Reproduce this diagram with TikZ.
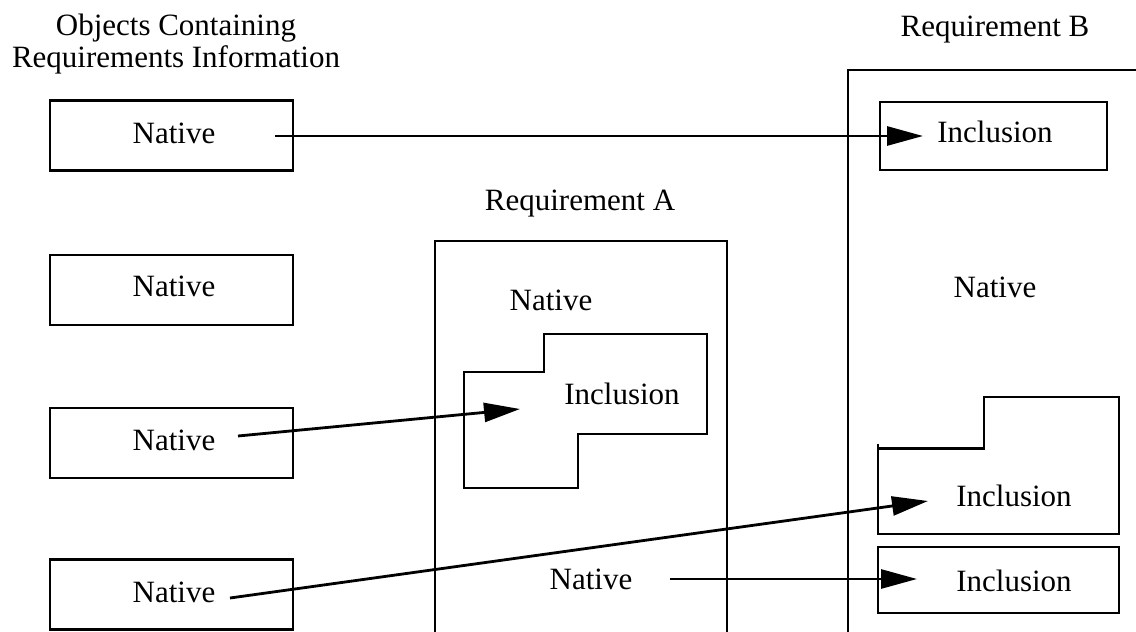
\documentclass[tikz,border=0pt]{standalone}
\usepackage{fontspec}
\setmainfont{Liberation Serif}
\usetikzlibrary{arrows.meta}
\tikzset{
  lw/.style={line width=2.8pt},
  txt/.style={anchor=base, inner sep=0pt, font=\fontsize{31}{32}\selectfont},
  objbox/.style={draw, lw, rectangle, inner sep=0pt, minimum width=243pt, minimum height=70pt},
  incbox/.style={draw, lw, rectangle, inner sep=0pt},
  link/.style={lw, -{Triangle[length=36pt,width=19pt]}},
}
\begin{document}
\begin{tikzpicture}[x=1pt, y=-1pt]
  \clip (0,0) rectangle (1136,632);
  \fill[white] (0,0) rectangle (1136,632);

  % left column of source objects
  \node[txt, align=center] (hdr) at (176,67) {Objects Containing\\Requirements Information};
  \node[objbox] (b1) at (171.5,135.5) {};
  \node[objbox] (b2) at (171.5,290) {};
  \node[objbox] (b3) at (171.5,443) {};
  \node[objbox] (b4) at (171.5,594.5) {};
  \node[txt] (n1) at (174,143) {Native};
  \node[txt] (n2) at (174,296) {Native};
  \node[txt] (n3) at (174,450) {Native};
  \node[txt] (n4) at (174,602) {Native};

  % Requirement A container (open at the bottom)
  \node[txt] (ta) at (580,210) {Requirement A};
  \draw[lw] (435,650) -- (435,241) -- (727,241) -- (727,650);
  \node[txt] (na1) at (551,310) {Native};
  \draw[lw] (544,334) -- (707,334) -- (707,434) -- (578,434) -- (578,488)
            -- (464,488) -- (464,372) -- (544,372) -- cycle;
  \node[txt] (ia) at (622,404) {Inclusion};
  \node[txt] (na2) at (591,589) {Native};

  % Requirement B container (open at right and bottom)
  \node[txt] (tb) at (995,36) {Requirement B};
  \draw[lw] (848,650) -- (848,70) -- (1150,70);
  \node[incbox, minimum width=227pt, minimum height=68pt] (ib1box) at (993.5,136) {};
  \node[txt] (ib1) at (995,142) {Inclusion};
  \node[txt] (nb) at (995,297) {Native};
  \draw[lw] (878,444) -- (878,534) -- (1119,534) -- (1119,397) -- (984,397)
            -- (984,448.5) -- (879,448.5);
  \node[txt] (ib2) at (1014,506) {Inclusion};
  \node[incbox, minimum width=241pt, minimum height=66pt] (ib3box) at (998.5,580) {};
  \node[txt] (ib3) at (1014,591) {Inclusion};

  % connector end points
  \coordinate (s1) at (275,136);
  \coordinate (e1) at (923,136);
  \coordinate (s3) at (238,436);
  \coordinate (e3) at (520,409);
  \coordinate (s4) at (230,598);
  \coordinate (e4) at (928,501);
  \coordinate (sa) at (670,579);
  \coordinate (ea) at (917,579);

  \draw[link] (s1) -- (e1);
  \draw[link] (s3) -- (e3);
  \draw[link] (s4) -- (e4);
  \draw[link] (sa) -- (ea);
\end{tikzpicture}
\end{document}
